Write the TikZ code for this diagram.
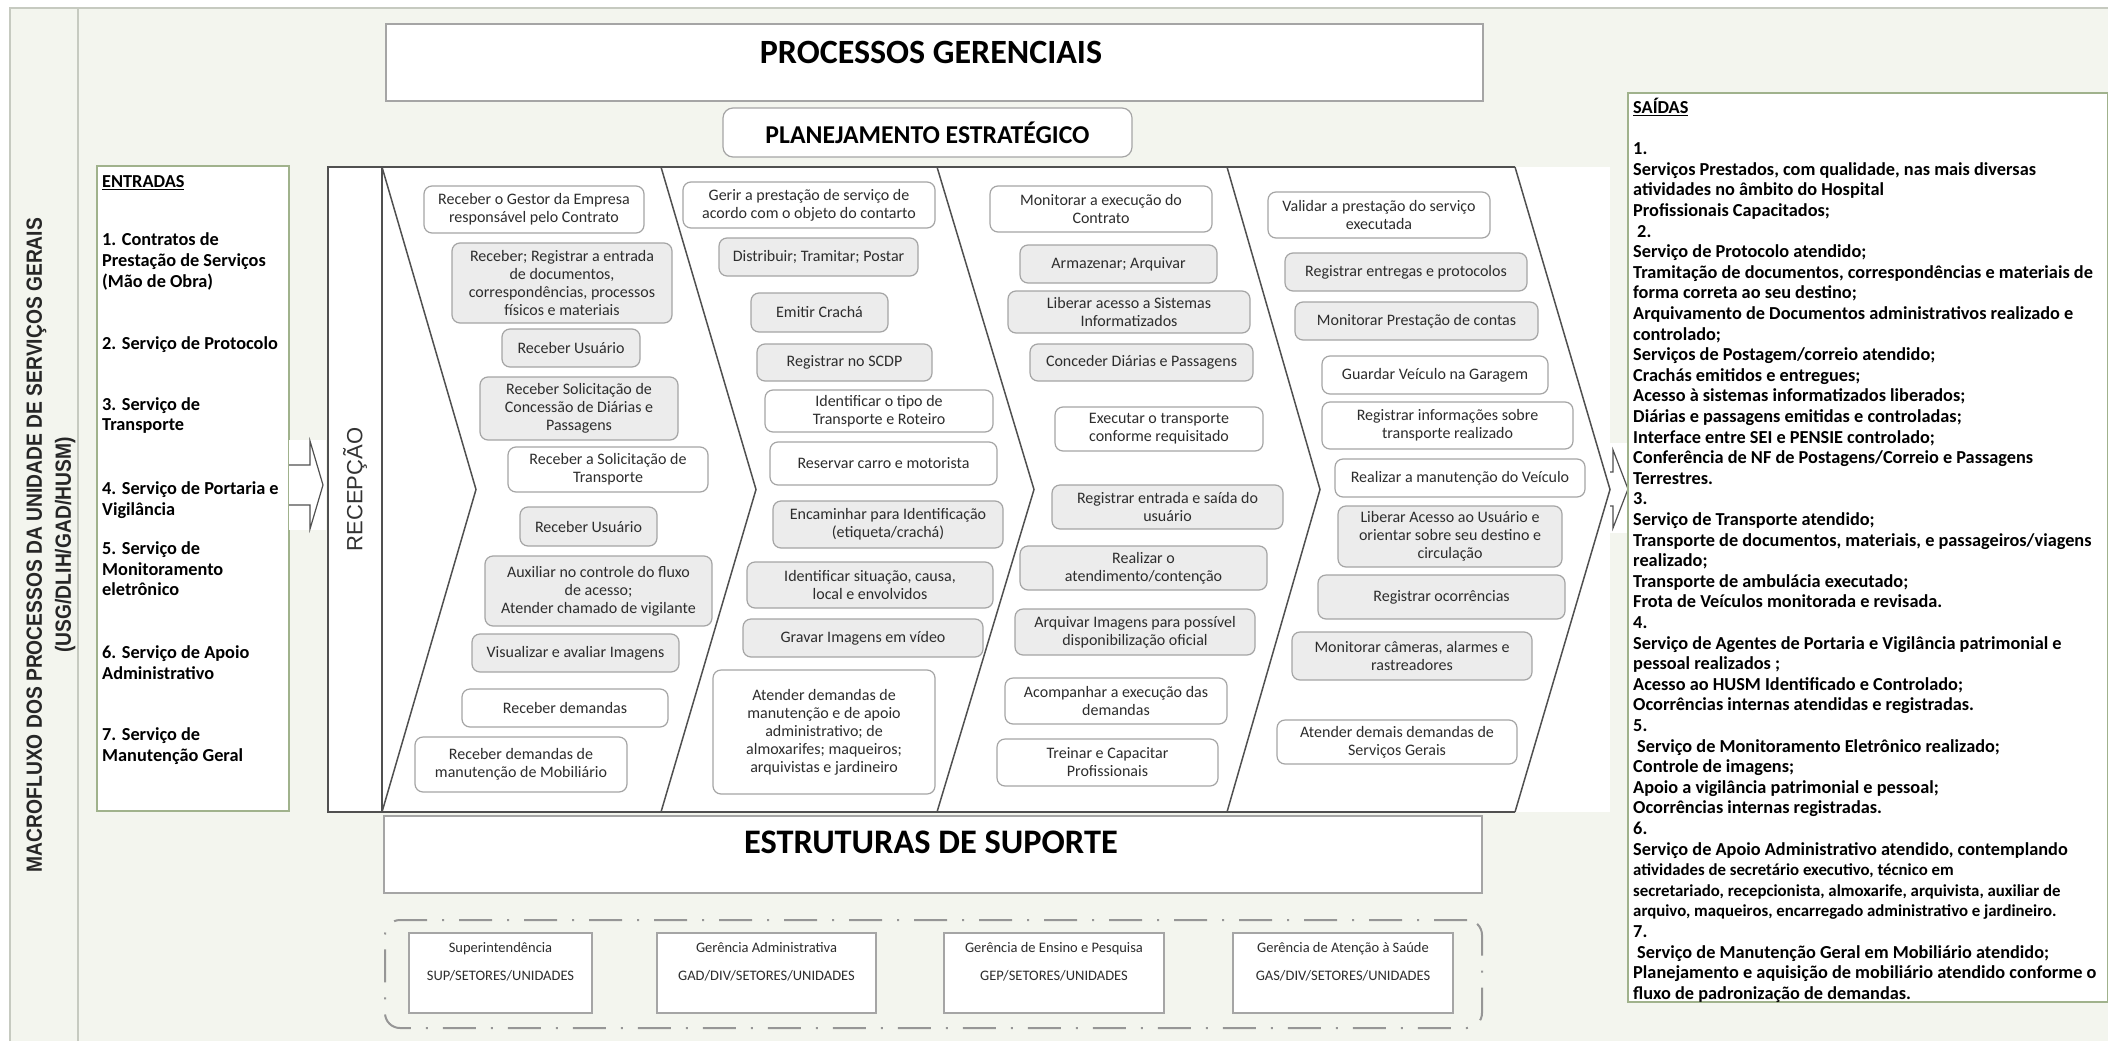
\documentclass[tikz,border=0pt]{standalone}
\usepackage{fontspec}
\setmainfont{Carlito}
\newfontfamily\arialfont{Liberation Sans}
\usepackage{graphicx}
\usetikzlibrary{positioning}

\definecolor{pagebg}{RGB}{243,245,238}
\definecolor{framegray}{RGB}{198,202,192}
\definecolor{boxgray}{RGB}{165,165,165}
\definecolor{actfill}{RGB}{236,236,236}
\definecolor{ioborder}{RGB}{160,178,140}
\definecolor{chevline}{RGB}{80,80,80}
\definecolor{acttext}{RGB}{45,45,45}
\definecolor{dashgray}{RGB}{150,150,150}

\tikzset{
	bigbox/.style={draw=boxgray, line width=1.2pt, fill=white},
	title/.style={font=\bfseries\fontsize{33}{33}\selectfont, inner sep=0pt},
	iobox/.style={draw=ioborder, line width=1.5pt, fill=white},
	iotext/.style={font=\bfseries\fontsize{18.3}{20.6}\selectfont, align=left, anchor=north west, inner sep=0pt},
	orgbox/.style={draw=boxgray, line width=1.2pt, fill=white, minimum width=#1, minimum height=80pt},
	orgtext/.style={font=\fontsize{14.5}{19}\selectfont, align=center, text=acttext, inner sep=0pt}
}

\begin{document}
\begin{tikzpicture}[x=1pt, y=-1pt]
	\useasboundingbox (0,0) rectangle (2108,1041);

	% page and frame
	\fill[white] (0,0) rectangle (2108,1041);
	\fill[pagebg] (10,8) rectangle (2108,1041);
	\draw[framegray, line width=1.5pt] (10,1041) -- (10,8) -- (2108,8);
	\draw[framegray, line width=1.5pt] (78,8) -- (78,1041);

	\node[rotate=90, align=center, inner sep=0pt, text=black!85,
	      font=\arialfont\bfseries\fontsize{22}{29}\selectfont] (macro) at (51,545)
	      {\scalebox{0.875}[1]{MACROFLUXO DOS PROCESSOS DA UNIDADE DE SERVIÇOS GERAIS}\\
	       \scalebox{0.875}[1]{(USG/DLIH/GAD/HUSM)}};

	% top
	\node[bigbox, minimum width=1097pt, minimum height=77pt] (gerenciais) at (934.5,62.5) {};
	\node[title, font=\bfseries\fontsize{34}{34}\selectfont] (gerenciaistxt) at (931,52) {PROCESSOS GERENCIAIS};
	\node[bigbox, rounded corners=10pt, minimum width=409pt, minimum height=49pt,
	      font=\bfseries\fontsize{25.7}{25.7}\selectfont] (planejamento) at (927.5,132.5) {PLANEJAMENTO ESTRATÉGICO};

	% entradas
	\node[iobox, minimum width=192pt, minimum height=645pt] (entradas) at (193,488.5) {};
	\node[iotext] (entradastxt) at (102,175) {\underline{ENTRADAS}\\[38pt]
		1. Contratos de\\ Prestação de Serviços\\ (Mão de Obra)\\[42pt]
		2. Serviço de Protocolo\\[40pt]
		3. Serviço de\\ Transporte\\[43pt]
		4. Serviço de Portaria e\\ Vigilância\\[19pt]
		5. Serviço de\\ Monitoramento\\ eletrônico\\[42pt]
		6. Serviço de Apoio\\ Administrativo\\[41pt]
		7. Serviço de\\ Manutenção Geral};

	% chevron strip
	\fill[white] (328,167) rectangle (1610,812);
	\fill[white] (289,440) rectangle (326,530);
	\fill[white] (1610,443) rectangle (1628,533);
	\draw[chevline, line width=1.2pt, fill=white] (289,465) -- (310,465) -- (310,441) -- (323,485)
	      -- (310,529) -- (310,505) -- (289,505);
	\draw[chevline, line width=1.2pt] (1610,472) -- (1613,472) -- (1613,450) -- (1628,489)
	      -- (1613,528) -- (1613,506) -- (1610,506);

	\node[draw=chevline, line width=1.5pt, minimum width=54pt, minimum height=645pt] (recepcao) at (355,489.5) {};
	\node[rotate=90, inner sep=0pt, text=black!80, font=\arialfont\fontsize{22}{22}\selectfont] (recepcaotxt) at (355,489.5) {RECEPÇÃO};

	\begin{scope}[chevline, line width=1.5pt]
		\draw (382,167) -- (1515,167);
		\draw (382,812) -- (1515,812);
		\draw (382,167) -- (476,489.5) -- (382,812);
		\draw (661,167) -- (756,489.5) -- (661,812);
		\draw (937,167) -- (1034,489.5) -- (937,812);
		\draw (1227,167) -- (1320,489.5) -- (1227,812);
		\draw (1515,167) -- (1610,489.5) -- (1515,812);
	\end{scope}

	% activities
	\begin{scope}[every node/.style={draw=boxgray, line width=1.2pt, rounded corners=8pt, fill=white,
	              align=center, inner sep=1pt, text=acttext, font=\fontsize{16}{18}\selectfont}]
		\node[minimum width=220pt, minimum height=47pt] (a1) at (534,209.5) {Receber o Gestor da Empresa\\responsável pelo Contrato};
		\node[fill=actfill, minimum width=220pt, minimum height=80pt] (a2) at (562,283) {Receber; Registrar a entrada\\de documentos,\\correspondências, processos\\físicos e materiais};
		\node[fill=actfill, minimum width=138pt, minimum height=38pt] (a3) at (571,348) {Receber Usuário};
		\node[fill=actfill, minimum width=198pt, minimum height=63pt] (a4) at (579,408.5) {Receber Solicitação de\\Concessão de Diárias e\\Passagens};
		\node[minimum width=200pt, minimum height=45pt] (a5) at (608,469.5) {Receber a Solicitação de\\Transporte};
		\node[fill=actfill, minimum width=137pt, minimum height=39pt] (a6) at (588.5,526.5) {Receber Usuário};
		\node[fill=actfill, minimum width=227pt, minimum height=70pt] (a7) at (598.5,591) {Auxiliar no controle do fluxo\\de acesso;\\Atender chamado de vigilante};
		\node[fill=actfill, minimum width=207pt, minimum height=38pt] (a8) at (575.5,653) {Visualizar e avaliar Imagens};
		\node[minimum width=206pt, minimum height=38pt] (a9) at (565,708) {Receber demandas};
		\node[minimum width=212pt, minimum height=55pt] (a10) at (521,764.5) {Receber demandas de\\manutenção de Mobiliário};

		\node[minimum width=252pt, minimum height=46pt] (b1) at (809,205) {Gerir a prestação de serviço de\\acordo com o objeto do contarto};
		\node[fill=actfill, minimum width=199pt, minimum height=38pt] (b2) at (818.5,257) {Distribuir; Tramitar; Postar};
		\node[fill=actfill, minimum width=137pt, minimum height=39pt] (b3) at (819.5,312.5) {Emitir Crachá};
		\node[fill=actfill, minimum width=175pt, minimum height=37pt] (b4) at (844.5,362.5) {Registrar no SCDP};
		\node[minimum width=228pt, minimum height=42pt] (b5) at (879,411) {Identificar o tipo de\\Transporte e Roteiro};
		\node[minimum width=227pt, minimum height=43pt] (b6) at (883.5,463.5) {Reservar carro e motorista};
		\node[fill=actfill, minimum width=230pt, minimum height=47pt] (b7) at (888,524.5) {Encaminhar para Identificação\\(etiqueta/crachá)};
		\node[fill=actfill, minimum width=246pt, minimum height=46pt] (b8) at (870,585) {Identificar situação, causa,\\local e envolvidos};
		\node[fill=actfill, minimum width=240pt, minimum height=38pt] (b9) at (863,638) {Gravar Imagens em vídeo};
		\node[minimum width=222pt, minimum height=124pt] (b10) at (824,732) {Atender demandas de\\manutenção e de apoio\\administrativo; de\\almoxarifes; maqueiros;\\arquivistas e jardineiro};

		\node[minimum width=222pt, minimum height=46pt] (c1) at (1101,209) {Monitorar a execução do\\Contrato};
		\node[fill=actfill, minimum width=197pt, minimum height=38pt] (c2) at (1118.5,264) {Armazenar; Arquivar};
		\node[fill=actfill, minimum width=242pt, minimum height=42pt] (c3) at (1129,312) {Liberar acesso a Sistemas\\Informatizados};
		\node[fill=actfill, minimum width=223pt, minimum height=37pt] (c4) at (1141.5,362.5) {Conceder Diárias e Passagens};
		\node[minimum width=208pt, minimum height=44pt] (c5) at (1159,429) {Executar o transporte\\conforme requisitado};
		\node[fill=actfill, minimum width=231pt, minimum height=44pt] (c6) at (1167.5,507) {Registrar entrada e saída do\\usuário};
		\node[fill=actfill, minimum width=247pt, minimum height=44pt] (c7) at (1143.5,568) {Realizar o\\atendimento/contenção};
		\node[fill=actfill, minimum width=240pt, minimum height=46pt] (c8) at (1135,632) {Arquivar Imagens para possível\\disponibilização oficial};
		\node[minimum width=222pt, minimum height=46pt] (c9) at (1116,701) {Acompanhar a execução das\\demandas};
		\node[minimum width=221pt, minimum height=47pt] (c10) at (1107.5,762.5) {Treinar e Capacitar\\Profissionais};

		\node[minimum width=222pt, minimum height=46pt] (d1) at (1379,215) {Validar a prestação do serviço\\executada};
		\node[fill=actfill, minimum width=242pt, minimum height=38pt] (d2) at (1406,272) {Registrar entregas e protocolos};
		\node[fill=actfill, minimum width=243pt, minimum height=38pt] (d3) at (1416.5,321) {Monitorar Prestação de contas};
		\node[minimum width=226pt, minimum height=38pt] (d4) at (1435,375) {Guardar Veículo na Garagem};
		\node[minimum width=251pt, minimum height=47pt] (d5) at (1447.5,425.5) {Registrar informações sobre\\transporte realizado};
		\node[minimum width=250pt, minimum height=38pt] (d6) at (1460,478) {Realizar a manutenção do Veículo};
		\node[fill=actfill, minimum width=224pt, minimum height=61pt] (d7) at (1450,536.5) {Liberar Acesso ao Usuário e\\orientar sobre seu destino e\\circulação};
		\node[fill=actfill, minimum width=247pt, minimum height=44pt] (d8) at (1441.5,597) {Registrar ocorrências};
		\node[fill=actfill, minimum width=240pt, minimum height=48pt] (d9) at (1412,656) {Monitorar câmeras, alarmes e\\rastreadores};
		\node[minimum width=240pt, minimum height=44pt] (d10) at (1397,742) {Atender demais demandas de\\Serviços Gerais};
	\end{scope}

	% saidas
	\node[iobox, minimum width=480pt, minimum height=909pt] (saidas) at (1868,547.5) {};
	\node[iotext] (saidastxt) at (1633,98) {\underline{SAÍDAS}\\[20.6pt]
		1.\\
		Serviços Prestados, com qualidade, nas mais diversas\\
		atividades no âmbito do Hospital\\
		Profissionais Capacitados;\\
		\hspace{4pt}2.\\
		Serviço de Protocolo atendido;\\
		Tramitação de documentos, correspondências e materiais de\\
		forma correta ao seu destino;\\
		Arquivamento de Documentos administrativos realizado e\\
		controlado;\\
		Serviços de Postagem/correio atendido;\\
		Crachás emitidos e entregues;\\
		Acesso à sistemas informatizados liberados;\\
		Diárias e passagens emitidas e controladas;\\
		Interface entre SEI e PENSIE controlado;\\
		Conferência de NF de Postagens/Correio e Passagens\\
		Terrestres.\\
		3.\\
		Serviço de Transporte atendido;\\
		Transporte de documentos, materiais, e passageiros/viagens\\
		realizado;\\
		Transporte de ambulácia executado;\\
		Frota de Veículos monitorada e revisada.\\
		4.\\
		Serviço de Agentes de Portaria e Vigilância patrimonial e\\
		pessoal realizados ;\\
		Acesso ao HUSM Identificado e Controlado;\\
		Ocorrências internas atendidas e registradas.\\
		5.\\
		\hspace{4pt}Serviço de Monitoramento Eletrônico realizado;\\
		Controle de imagens;\\
		Apoio a vigilância patrimonial e pessoal;\\
		Ocorrências internas registradas.\\
		6.\\
		Serviço de Apoio Administrativo atendido, contemplando\\
		{\fontsize{16.8}{20.6}\selectfont atividades de secretário executivo, técnico em}\\
		{\fontsize{16.8}{20.6}\selectfont secretariado, recepcionista, almoxarife, arquivista, auxiliar de}\\
		{\fontsize{16.8}{20.6}\selectfont arquivo, maqueiros, encarregado administrativo e jardineiro.}\\
		7.\\
		\hspace{4pt}Serviço de Manutenção Geral em Mobiliário atendido;\\
		Planejamento e aquisição de mobiliário atendido conforme o\\
		fluxo de padronização de demandas.};

	% bottom
	\node[bigbox, minimum width=1098pt, minimum height=77pt] (suporte) at (933,854.5) {};
	\node[title, font=\bfseries\fontsize{34.4}{34.4}\selectfont] (suportetxt) at (931,842) {ESTRUTURAS DE SUPORTE};
	\node[draw=dashgray, line width=2pt, rounded corners=15pt, dash pattern=on 33pt off 15pt on 2pt off 15pt,
	      minimum width=1097pt, minimum height=108pt] (orgs) at (933.5,974) {};

	\node[orgbox=183pt] (sup) at (500.5,973) {};
	\node[orgtext] (suptxt) at (500.5,962) {Superintendência\\[9pt]SUP/SETORES/UNIDADES};
	\node[orgbox=219pt] (gad) at (766.5,973) {};
	\node[orgtext] (gadtxt) at (766.5,962) {Gerência Administrativa\\[9pt]GAD/DIV/SETORES/UNIDADES};
	\node[orgbox=220pt] (gep) at (1054,973) {};
	\node[orgtext] (geptxt) at (1054,962) {Gerência de Ensino e Pesquisa\\[9pt]GEP/SETORES/UNIDADES};
	\node[orgbox=220pt] (gas) at (1343,973) {};
	\node[orgtext] (gastxt) at (1343,962) {Gerência de Atenção à Saúde\\[9pt]GAS/DIV/SETORES/UNIDADES};
\end{tikzpicture}
\end{document}
